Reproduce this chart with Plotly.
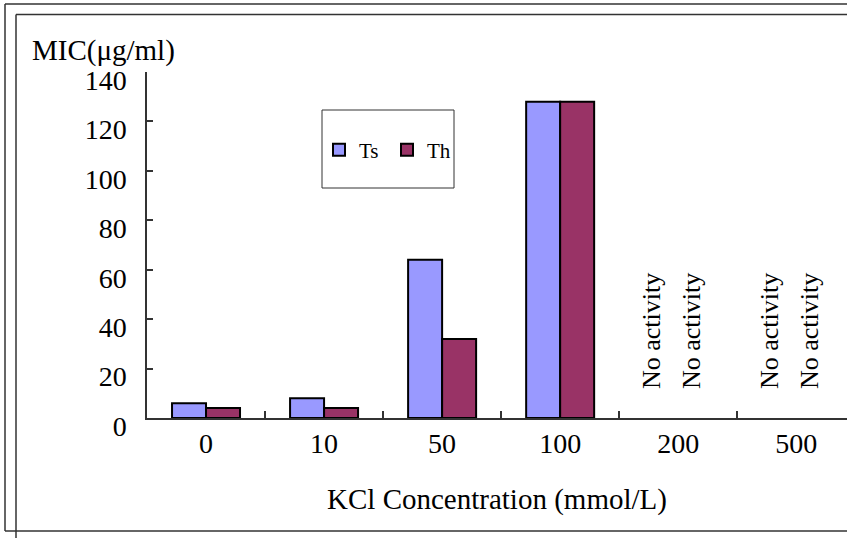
import plotly.graph_objects as go

# data
concentrations = ['0', '10', '50', '100', '200', '500']
ts_mic = [6, 8, 64, 128, None, None]
th_mic = [4, 4, 32, 128, None, None]
inactive = ['200', '500']

W, H = 847, 538
L, R, T, B = 147, 0, 72, 120


def px(x):
    return (x - L) / (W - L - R)


def py(y):
    return (H - B - y) / (H - T - B)


serif = 'Liberation Serif, Times New Roman, serif'
line_col = '#333333'

fig = go.Figure()
fig.add_trace(go.Bar(x=concentrations, y=ts_mic, name='Ts',
                     marker=dict(color='#9999FF', line=dict(color='black', width=2))))
fig.add_trace(go.Bar(x=concentrations, y=th_mic, name='Th',
                     marker=dict(color='#993366', line=dict(color='black', width=2))))

# "No activity" labels for the inactive concentrations
for c in inactive:
    idx = concentrations.index(c)
    for shift in (-26, 14):
        fig.add_annotation(x=idx, y=11, xref='x', yref='y', text='No activity',
                           textangle=-90, showarrow=False, xshift=shift,
                           yanchor='bottom', font=dict(family=serif, size=26, color='black'))

# y axis title, written horizontally above the axis
fig.add_annotation(x=px(30), y=py(50), xref='paper', yref='paper', text='MIC(μg/ml)',
                   showarrow=False, xanchor='left', yanchor='middle',
                   font=dict(family=serif, size=29, color='black'))


def seg(x0, y0, x1, y1, width=1.5):
    return dict(type='line', xref='paper', yref='paper',
                x0=px(x0), y0=py(y0), x1=px(x1), y1=py(y1),
                line=dict(color=line_col, width=width), layer='above')


# outer frames (two offset rectangles) and legend box
shapes = [
    seg(5, 4, 847, 4),
    seg(5, 4, 5, 531),
    seg(5, 531, 847, 531),
    seg(16, 14.5, 847, 14.5),
    seg(16, 14.5, 16, 538),
    dict(type='rect', xref='paper', yref='paper', x0=px(322), x1=px(454), y0=py(188), y1=py(110),
         line=dict(color=line_col, width=1)),
]

fig.update_layout(
    width=W, height=H,
    margin=dict(l=L, r=R, t=T, b=B),
    paper_bgcolor='white', plot_bgcolor='white',
    barmode='group', bargap=0.424, bargroupgap=0,
    font=dict(family=serif, size=27, color='black'),
    shapes=shapes,
    showlegend=True,
    legend=dict(orientation='h', x=px(319), y=py(150), xanchor='left', yanchor='middle',
                font=dict(family=serif, size=21, color='black'),
                bgcolor='rgba(0,0,0,0)', entrywidth=23, entrywidthmode='pixels',
                traceorder='normal'),
    xaxis=dict(
        range=[-0.5, 5.43], showline=True, linecolor=line_col, linewidth=1.5,
        ticks='inside', tickson='boundaries', ticklen=7, tickcolor=line_col, tickwidth=1.5,
        showgrid=False, zeroline=False,
        title=dict(text='KCl Concentration (mmol/L)', font=dict(family=serif, size=29), standoff=30),
        tickfont=dict(family=serif, size=28),
    ),
    yaxis=dict(
        range=[0, 140], tickvals=list(range(0, 141, 20)), showline=True, linecolor=line_col,
        linewidth=1.5, ticks='inside', ticklen=6, tickcolor=line_col, tickwidth=1.5,
        showgrid=False, zeroline=False, ticklabelstandoff=13, ticklabelshift=8,
        tickfont=dict(family=serif, size=28),
    ),
)

fig.write_html('out.html', config={'displayModeBar': False},
               post_script="document.body.style.margin='0';document.body.style.overflow='hidden';")
